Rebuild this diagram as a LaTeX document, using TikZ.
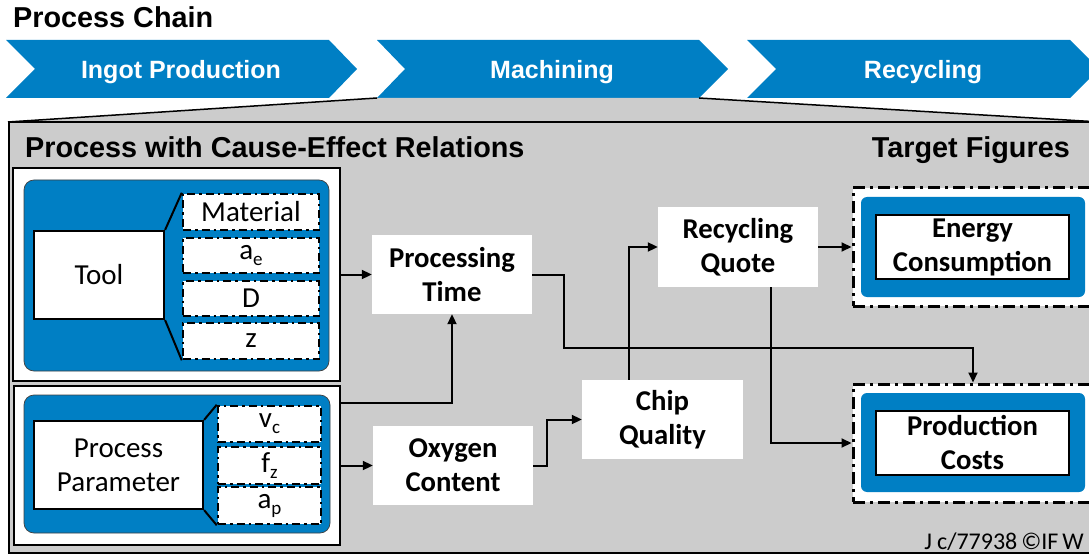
\documentclass[tikz,border=0pt]{standalone}
\usepackage{fontspec}
\setmainfont{Carlito}
\newfontfamily\arialfont{Liberation Sans}
\usetikzlibrary{arrows.meta}
\definecolor{myblue}{RGB}{0,127,196}
\definecolor{mygrey}{RGB}{204,204,204}
\newcommand{\lowsub}[1]{\raisebox{-6pt}{\fontsize{19}{19}\selectfont #1}}
\begin{document}
\begin{tikzpicture}[x=1pt,y=-1pt,
  regf/.style={font=\fontsize{29}{34}\selectfont},
  boldf/.style={font=\bfseries\fontsize{28.7}{34}\selectfont},
  headf/.style={font=\arialfont\bfseries\fontsize{28.8}{34}\selectfont},
  chevtext/.style={font=\arialfont\bfseries\fontsize{25}{30}\selectfont, text=white, inner sep=0},
  outerw/.style={draw, fill=white, line width=2.5pt, inner sep=0},
  bluer/.style={fill=myblue, draw=black!75, line width=0.7pt, rounded corners=10pt, inner sep=0},
  plainb/.style={draw, fill=white, line width=2.2pt, inner sep=0, regf, align=center},
  subb/.style={draw, fill=white, line width=2.5pt, dash pattern=on 8pt off 4pt on 2.5pt off 4pt, inner sep=0, regf},
  ceb/.style={fill=white, inner sep=0, boldf, align=center},
  tgo/.style={draw, fill=white, line width=3pt, dash pattern=on 12pt off 5pt on 3pt off 5pt, inner sep=0},
  tgb/.style={fill=myblue, rounded corners=6pt, inner sep=0},
  tgi/.style={draw, fill=white, line width=2.5pt, inner sep=0, boldf, align=center},
  arr/.style={line width=2pt, -{Triangle[length=10pt,width=9pt]}}
]
\useasboundingbox (0,0) rectangle (1089,556);
\clip (0,0) rectangle (1089,556);

% process chain
\node[headf, anchor=base west, inner sep=0] (title) at (13,28) {Process Chain};
\fill[myblue] (6,40) -- (329,40) -- (357,69) -- (329,98) -- (6,98) -- (35,69) -- cycle;
\fill[myblue] (377,40) -- (699,40) -- (728,69) -- (699,98) -- (377,98) -- (405,69) -- cycle;
\fill[myblue] (747,40) -- (1070,40) -- (1099,69) -- (1070,98) -- (747,98) -- (776,69) -- cycle;
\node[chevtext, anchor=base] (ch1) at (181,79) {Ingot Production};
\node[chevtext, anchor=base] (ch2) at (552,79) {Machining};
\node[chevtext, anchor=base] (ch3) at (923,79) {Recycling};

% zoom trapezoid and big box
\fill[mygrey] (377,98) -- (699,98) -- (1100,122) -- (8,122) -- cycle;
\draw[line width=1.5pt] (377,98) -- (8,122);
\draw[line width=1.5pt] (699,98) -- (1100,122);
\draw[fill=mygrey, line width=2pt] (9,122) rectangle (1100,553);

\node[headf, anchor=base west, inner sep=0] (h1) at (25,158) {Process with Cause-Effect Relations};
\node[headf, anchor=base east, inner sep=0] (h2) at (1070,158) {Target Figures};

% upper left panel
\node[outerw, minimum width=327pt, minimum height=213pt] (toolouter) at (176.5,274.5) {};
\node[bluer, minimum width=305pt, minimum height=191pt] (toolblue) at (176.5,275.5) {};
\node[plainb, minimum width=130pt, minimum height=88pt] (tool) at (99,275) {Tool};
\node[subb, minimum width=136pt, minimum height=36pt] (mat) at (251,212) {Material};
\node[subb, minimum width=136pt, minimum height=35pt] (ae) at (251,255.5) {a\lowsub{e}};
\node[subb, minimum width=136pt, minimum height=35pt] (dd) at (251,298.5) {D};
\node[subb, minimum width=136pt, minimum height=36pt] (zz) at (251,341) {z};
\draw[line width=2pt] (tool.north east) -- (mat.north west);
\draw[line width=2pt] (tool.south east) -- (zz.south west);

% lower left panel
\node[outerw, minimum width=326pt, minimum height=159pt] (ppouter) at (177,465.5) {};
\node[bluer, minimum width=306pt, minimum height=138pt] (ppblue) at (177,464) {};
\node[plainb, minimum width=169pt, minimum height=88pt] (pp) at (118.5,465) {Process\\Parameter};
\node[subb, minimum width=103pt, minimum height=36pt] (vc) at (269.5,424) {v\lowsub{c}};
\node[subb, minimum width=103pt, minimum height=37pt] (fz) at (269.5,465.5) {f\lowsub{z}};
\node[subb, minimum width=103pt, minimum height=37pt] (ap) at (269.5,505.5) {a\lowsub{p}};
\draw[line width=2pt] (pp.north east) -- (vc.north west);
\draw[line width=2pt] (pp.south east) -- (ap.south west);

% cause-effect boxes
\node[ceb, minimum width=160pt, minimum height=79pt] (pt) at (452,274.5) {Processing\\Time};
\node[ceb, minimum width=160pt, minimum height=79pt] (oc) at (453,465.5) {Oxygen\\Content};
\node[ceb, minimum width=161pt, minimum height=79pt] (cq) at (662.5,419.5) {Chip\\Quality};
\node[ceb, minimum width=160pt, minimum height=80pt] (rq) at (738,247) {Recycling\\Quote};

% target figures
\node[tgo, minimum width=247pt, minimum height=118pt] (eco) at (976.5,247) {};
\node[tgb, minimum width=224pt, minimum height=100pt] (ecb) at (973,247) {};
\node[tgi, minimum width=193pt, minimum height=64pt] (ec) at (972.5,247) {Energy\\Consumption};
\node[tgo, minimum width=247pt, minimum height=118pt] (pco) at (976.5,443) {};
\node[tgb, minimum width=224pt, minimum height=99pt] (pcb) at (973,442.5) {};
\node[tgi, minimum width=193pt, minimum height=64pt] (pc) at (972.5,443) {Production\\Costs};

% connectors
\draw[arr] (toolouter.east) -- (pt.west);
\draw[arr] ([yshift=62.5pt]ppouter.east) -| (pt.south);
\draw[arr] (ppouter.east) -- (oc.west);
\draw[arr] (oc.east) -- ++(14,0) |- (cq.west);
\draw[arr] ([xshift=-33.5pt]cq.north) |- (rq.west);
\draw[arr] (pt.east) -- ++(32,0) -- ++(0,73) -| ([xshift=-3.5pt]pco.north);
\draw[arr] (rq.east) -- (eco.west);
\draw[arr] ([xshift=33pt]rq.south) |- (pco.west);

\node[font=\fontsize{24}{28}\selectfont, anchor=base east, inner sep=0] (wm) at (1084,549) {J\hspace{5pt}c/77938\hspace{4pt}©IF\hspace{4pt}W};
\end{tikzpicture}
\end{document}
